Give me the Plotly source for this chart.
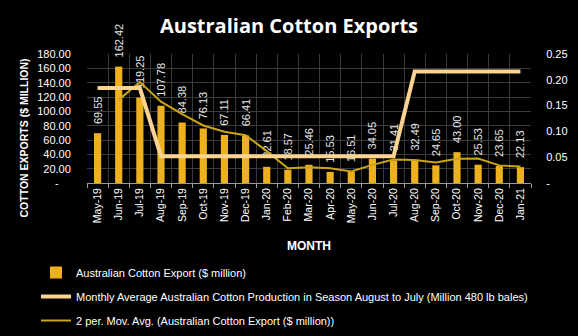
import plotly.graph_objects as go

months = ["May-19", "Jun-19", "Jul-19", "Aug-19", "Sep-19", "Oct-19", "Nov-19", "Dec-19",
          "Jan-20", "Feb-20", "Mar-20", "Apr-20", "May-20", "Jun-20", "Jul-20", "Aug-20",
          "Sep-20", "Oct-20", "Nov-20", "Dec-20", "Jan-21"]
exports = [69.55, 162.42, 119.25, 107.78, 84.38, 76.13, 67.11, 66.41, 22.61, 18.57, 25.46,
           15.53, 16.51, 34.05, 31.41, 32.49, 24.65, 43.00, 25.53, 23.65, 22.13]
production = [0.184, 0.184, 0.184, 0.052, 0.052, 0.052, 0.052, 0.052, 0.052, 0.052, 0.052,
              0.052, 0.052, 0.052, 0.052, 0.216, 0.216, 0.216, 0.216, 0.216, 0.216]
mov_avg_months = months[1:]
mov_avg = [115.99, 140.84, 113.52, 96.08, 80.26, 71.62, 66.76, 44.51, 20.59, 22.02, 20.50,
           16.02, 25.28, 32.73, 31.95, 28.57, 33.83, 34.27, 24.59, 22.89]

left_ticks = [0, 20, 40, 60, 80, 100, 120, 140, 160, 180]
left_labels = ["-\u00a0\u00a0\u00a0\u00a0", "20.00", "40.00", "60.00", "80.00", "100.00",
               "120.00", "140.00", "160.00", "180.00"]
right_ticks = [0, 0.05, 0.10, 0.15, 0.20, 0.25]
right_labels = ["-", "0.05", "0.10", "0.15", "0.20", "0.25"]

FONT = "Liberation Sans"
fig = go.Figure()
fig.add_trace(go.Bar(
    x=months, y=exports, name="Australian Cotton Export ($ million)",
    marker=dict(color="#EDB01E", line=dict(width=0)), width=0.34,
    text=["\u00a0\u00a0" + f"{v:.2f}" for v in exports], textposition="outside", textangle=-90,
    textfont=dict(color="#E6E6E6", size=11, family=FONT), cliponaxis=False,
    legendgroup="a",
))
fig.add_trace(go.Scatter(
    x=months, y=production, yaxis="y2", mode="lines",
    name="Monthly Average Australian Cotton Production in Season August to July (Million 480 lb bales)",
    line=dict(color="#FCD491", width=4), legendgroup="b",
))
fig.add_trace(go.Scatter(
    x=mov_avg_months, y=mov_avg, mode="lines",
    name="2 per. Mov. Avg. (Australian Cotton Export ($ million))",
    line=dict(color="#C9A414", width=2), legendgroup="c",
))

fig.update_layout(
    width=578, height=336,
    paper_bgcolor="#000000", plot_bgcolor="#000000",
    margin=dict(l=87, r=47, t=54, b=153, autoexpand=False),
    font=dict(family=FONT, color="#FFFFFF", size=11),
    uniformtext=dict(minsize=11, mode="show"),
    title=dict(text="<b>Australian Cotton Exports</b>", x=289 / 578, xref="container",
               y=1 - 26 / 336, yref="container", yanchor="middle", xanchor="center",
               font=dict(family="Open Sans", size=20, color="#FFFFFF")),
    showlegend=True,
    legend=dict(xref="container", yref="container", x=36 / 578, y=1 - 258 / 336,
                xanchor="left", yanchor="top", orientation="v",
                font=dict(size=11, color="#FFFFFF", family=FONT),
                bgcolor="rgba(0,0,0,0)", tracegroupgap=5, itemwidth=30),
    xaxis=dict(type="category", tickangle=-90, tickson="boundaries",
               showgrid=True, gridcolor="#3A3A3A", gridwidth=1, automargin=False,
               showline=True, linecolor="#9A9A9A", ticks="outside", ticklen=4,
               tickcolor="#9A9A9A", tickfont=dict(size=10.5, color="#FFFFFF")),
    yaxis=dict(range=[0, 180], tickvals=left_ticks, ticktext=left_labels, automargin=False,
               showgrid=True, gridcolor="#3A3A3A", zeroline=False,
               ticks="outside", ticklen=13, tickcolor="rgba(0,0,0,0)",
               tickfont=dict(size=11, color="#FFFFFF")),
    yaxis2=dict(range=[0, 0.25], overlaying="y", side="right", tickvals=right_ticks,
                ticktext=right_labels, showgrid=False, zeroline=False, automargin=False,
                ticks="outside", ticklen=12, tickcolor="rgba(0,0,0,0)",
                tickfont=dict(size=11, color="#FFFFFF")),
    annotations=[
        dict(text="<b>MONTH</b>", xref="paper", yref="paper", x=0.5, y=1 - (246 - 54) / 129,
             showarrow=False, xanchor="center", yanchor="middle",
             font=dict(size=12, color="#FFFFFF", family=FONT)),
        dict(text="<b>COTTON EXPORTS ($ MILLION)</b>", xref="paper", yref="paper",
             x=-(87 - 23) / 444, y=0.5 - 20 / 129, textangle=-90,
             showarrow=False, xanchor="center", yanchor="middle",
             font=dict(size=10.5, color="#FFFFFF", family=FONT)),
    ],
)
fig.write_html("out.html")
